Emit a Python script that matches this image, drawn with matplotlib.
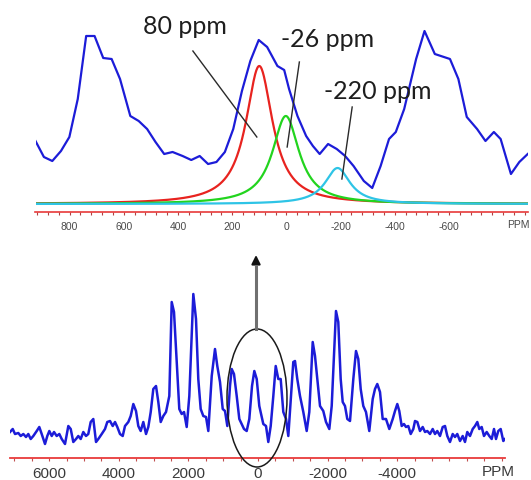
import numpy as np
import matplotlib
matplotlib.use('Agg')
from matplotlib import pyplot as plt
from matplotlib.patches import Ellipse
from matplotlib.ticker import MultipleLocator

# --- top panel: expanded centre band (ppm, intensity) ---
top_ppm = [926, 895, 864, 832, 801, 770, 739, 708, 676, 645,
           614, 576, 545, 514, 483, 451, 420, 383, 351, 320,
           289, 258, 227, 196, 164, 133, 102, 71, 33, 8,
           -10, -41, -73, -98, -123, -154, -186, -217, -248, -286,
           -317, -348, -379, -404, -435, -479, -510, -548, -604, -635,
           -666, -704, -735, -766, -791, -829, -860, -891]
top_int = [63, 47, 43, 53, 67, 105, 168, 168, 146, 145,
           125, 88, 83, 75, 62, 50, 52, 48, 44, 48,
           40, 42, 52, 75, 113, 143, 164, 157, 138, 134,
           115, 88, 68, 58, 50, 60, 55, 48, 38, 23,
           16, 38, 65, 72, 95, 145, 173, 150, 145, 125,
           87, 75, 63, 72, 65, 30, 42, 50]

# fitted components (Lorentzian): centre ppm, height, half width
fit_centres = [100, 2, -189]
fit_heights = [138, 88, 36]
fit_hwhm = [60, 60, 56]
fit_colors = ['#e8231f', '#22d41e', '#2ec4e6']

labels_text = ['80 ppm', '-26 ppm', '-220 ppm']
label_pos = [(374, 171), (-152, 158), (-336, 106)]
pointer_from = [(345, 153), (-48, 142), (-243, 97)]
pointer_to = [(109, 67), (-3, 57), (-205, 25)]

top_ticks = [800, 600, 400, 200, 0, -200, -400, -600]

# --- bottom panel: full spinning sideband pattern ---
bot_ppm = [7127, 7049, 6983, 6888, 6819, 6744, 6667, 6601, 6532, 6457,
           6359, 6285, 6216, 6121, 6055, 5997, 5928, 5862, 5785, 5710,
           5641, 5546, 5451, 5382, 5308, 5230, 5164, 5095, 5020, 4943,
           4877, 4808, 4733, 4655, 4589, 4491, 4397, 4331, 4253, 4175,
           4109, 4043, 3966, 3888, 3822, 3727, 3658,
           3583, 3506, 3440, 3371, 3296, 3218, 3152, 3083, 3009, 2931,
           2865, 2796, 2721, 2644, 2549, 2480, 2414, 2336, 2262, 2193,
           2126, 2049, 1974, 1859, 1782, 1716, 1647, 1572, 1494, 1428,
           1330, 1236, 1170, 1092, 1014, 948, 882, 805, 756, 690,
           612, 537, 468, 402, 325, 250, 172, 106, 37, -37,
           -152, -230, -296, -365, -440, -509, -583, -652, -727, -805,
           -871, -1014, -1063, -1129, -1207, -1302, -1399, -1474, -1572, -1638,
           -1704, -1782, -1876, -1954, -2049, -2118, -2241, -2307, -2376, -2434,
           -2500, -2566, -2644, -2739, -2816, -2882, -2951, -3026, -3103, -3198,
           -3296, -3362, -3428, -3506, -3583, -3678, -3773,
           -3871, -3937, -4003, -4060, -4129, -4195, -4253, -4319, -4388, -4463,
           -4512, -4578, -4655, -4733, -4799, -4865, -4943, -5020, -5086, -5152,
           -5230, -5308, -5374, -5440, -5517, -5595, -5661, -5727, -5805, -5882,
           -5948, -6014, -6092, -6170, -6236, -6302, -6359, -6428, -6494, -6572,
           -6647, -6716, -6782, -6839, -6905, -6974, -7049, -7098]
bot_int = [26, 29, 24, 25, 22, 24, 21, 24, 19, 22,
           27, 31, 24, 14, 22, 27, 22, 26, 22, 24,
           19, 14, 32, 29, 16, 19, 22, 19, 26, 22,
           24, 36, 39, 16, 19, 24, 29, 36, 37, 32,
           36, 31, 24, 22, 32, 36, 42,
           54, 47, 32, 27, 36, 24, 31, 46, 69, 72,
           56, 36, 42, 46, 62, 156, 146, 96, 49, 44,
           46, 31, 62, 164, 139, 79, 49, 42, 41, 27,
           82, 109, 92, 76, 49, 47, 32, 72, 89, 84,
           62, 39, 34, 29, 27, 39, 72, 87, 79, 52,
           34, 32, 16, 32, 62, 92, 79, 79, 46, 39,
           22, 96, 97, 79, 62, 46, 27, 46, 116, 102,
           79, 52, 47, 36, 29, 52, 147, 136, 79, 56,
           52, 39, 37, 79, 107, 99, 69, 52, 46, 27,
           59, 69, 74, 66, 39, 39, 29,
           39, 47, 54, 47, 32, 34, 31, 32, 24, 29,
           37, 36, 27, 31, 26, 27, 24, 29, 24, 27,
           22, 31, 32, 22, 16, 24, 21, 24, 17, 22,
           16, 26, 22, 29, 32, 36, 29, 31, 22, 26,
           22, 19, 29, 19, 27, 29, 17, 19]
bot_ticks = [6000, 4000, 2000, 0, -2000, -4000]

blue = '#1c1cd8'
axis_red = '#e83a3a'

fig = plt.figure(figsize=(5.31, 4.81), dpi=100)

# top panel
ax1 = fig.add_axes([35.5 / 531, 1 - 217 / 481, (528 - 35.5) / 531, 202 / 481])
ax1.plot(top_ppm, top_int, color=blue, lw=1.6, zorder=3)
x = np.linspace(926, -892, 900)
for c, h, w, col in zip(fit_centres, fit_heights, fit_hwhm, fit_colors):
    ax1.plot(x, h / (1 + ((x - c) / w) ** 2), color=col, lw=1.6, zorder=4)
for t, p, a, b in zip(labels_text, label_pos, pointer_from, pointer_to):
    ax1.text(p[0], p[1], t, ha='center', va='baseline', fontsize=18,
             family='Lato', color='#1e1e1e', zorder=6)
    ax1.plot([a[0], b[0]], [a[1], b[1]], color='#2a2a2a', lw=1.0, zorder=5)
ax1.set_xlim(926, -892)
ax1.set_ylim(-12, 190)
for s in ['top', 'left', 'right']:
    ax1.spines[s].set_visible(False)
ax1.spines['bottom'].set_position(('data', -8))
ax1.spines['bottom'].set_color(axis_red)
ax1.spines['bottom'].set_linewidth(1.2)
ax1.set_yticks([])
ax1.set_xticks(top_ticks)
ax1.set_xticklabels([str(t) for t in top_ticks])
ax1.xaxis.set_minor_locator(MultipleLocator(40))
ax1.tick_params(axis='x', which='both', direction='out', length=2.5, width=0.8,
                color='#b04040', labelsize=7.5, labelcolor='#4a4a4a', pad=4)
for lab in ax1.get_xticklabels():
    lab.set_family('Liberation Sans')
ax1.text(-857, -15.5, 'PPM', ha='center', va='top', fontsize=7.5,
         color='#4a4a4a', family='Liberation Sans', clip_on=False)
ax1.patch.set_alpha(0)

# bottom panel
ax2 = fig.add_axes([10 / 531, 1 - 473 / 481, 495 / 531, 229 / 481])
ax2.plot(bot_ppm, bot_int, color=blue, lw=1.8, zorder=3)
ax2.add_patch(Ellipse((29, 60), 1724, 138, fill=False, edgecolor='#1a1a1a',
                      lw=1.1, zorder=5, clip_on=False))
ax2.plot([57, 57], [129, 192], color='#707070', lw=2.2, zorder=5)
ax2.annotate('', xy=(57, 203), xytext=(57, 190),
             arrowprops=dict(arrowstyle='-|>', color='#111111', lw=1.5,
                             mutation_scale=13, shrinkA=0, shrinkB=0))
ax2.set_xlim(7127, -7098)
ax2.set_ylim(-14, 215)
for s in ['top', 'left', 'right']:
    ax2.spines[s].set_visible(False)
ax2.spines['bottom'].set_position(('data', 0))
ax2.spines['bottom'].set_color(axis_red)
ax2.spines['bottom'].set_linewidth(1.3)
ax2.set_yticks([])
ax2.set_xticks(bot_ticks)
ax2.set_xticklabels([str(t) for t in bot_ticks])
ax2.xaxis.set_minor_locator(MultipleLocator(500))
ax2.tick_params(axis='x', which='both', direction='out', length=2.5, width=0.8,
                color='#c05050', labelsize=11, labelcolor='#3a3a3a', pad=3.5)
for lab in ax2.get_xticklabels():
    lab.set_family('Liberation Sans')
ax2.text(-6897, -6.5, 'PPM', ha='center', va='top', fontsize=11,
         color='#3a3a3a', family='Liberation Sans', clip_on=False)
ax2.patch.set_alpha(0)

fig.savefig('out.png', dpi=100)
